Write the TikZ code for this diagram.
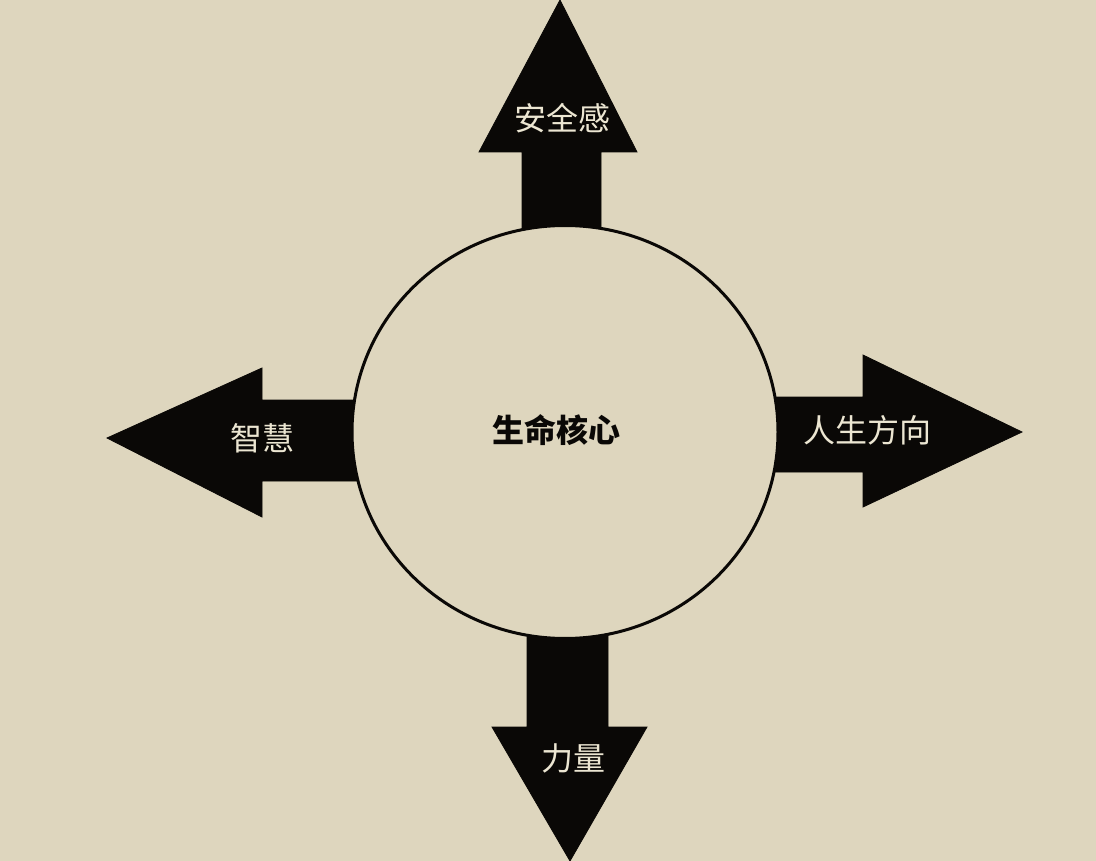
\documentclass[tikz,border=0pt]{standalone}
\usepackage{fontspec}
\usetikzlibrary{shapes.geometric}
\newfontfamily\cjk{Noto Sans CJK SC}
\definecolor{bg}{RGB}{222,214,190}
\definecolor{ink}{RGB}{10,8,6}
\definecolor{paper}{RGB}{236,230,210}
\tikzset{
  arrowshape/.style={fill=ink, draw=ink, line width=0.8pt, line join=miter},
  arrowtext/.style={text=paper, font=\cjk\fontsize{32}{35}\selectfont, inner sep=0pt},
  coretext/.style={text=ink, font=\cjk\bfseries\fontsize{32}{35}\selectfont, inner sep=0pt},
  corecircle/.style={ellipse, draw=ink, fill=bg, line width=3pt, minimum width=426pt, minimum height=413pt, inner sep=0pt}
}
\begin{document}
\begin{tikzpicture}[x=1pt,y=-1pt]
\fill[bg] (0,0) rectangle (1096,861);
\useasboundingbox (0,0) rectangle (1096,861);
% arrows
\fill[arrowshape] (522,432) -- (522,152) -- (479,152) -- (560,0) -- (637,152) -- (601,152) -- (601,432) -- cycle;
\fill[arrowshape] (565,400) -- (262,400) -- (262,368) -- (107,438) -- (262,517) -- (262,481) -- (565,481) -- cycle;
\fill[arrowshape] (565,397) -- (863,397) -- (863,355) -- (1022,432) -- (863,507) -- (863,472) -- (565,472) -- cycle;
\fill[arrowshape] (527,432) -- (527,727) -- (492,727) -- (570,861) -- (647,727) -- (608,727) -- (608,432) -- cycle;
% core circle
\node[corecircle] (core) at (565,432) {};
\node[coretext] (corelabel) at (556,430) {生命核心};
% arrow labels
\node[arrowtext] (up) at (562,118) {安全感};
\node[arrowtext] (left) at (262,438) {智慧};
\node[arrowtext] (right) at (867,430) {人生方向};
\node[arrowtext] (down) at (573,758) {力量};
\end{tikzpicture}
\end{document}
